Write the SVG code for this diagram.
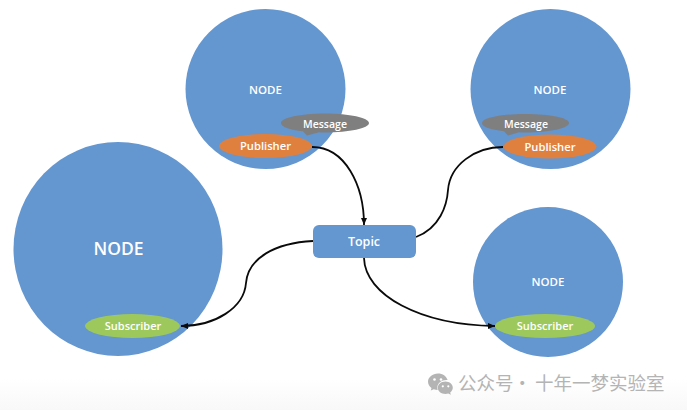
<svg xmlns="http://www.w3.org/2000/svg" width="687" height="410" viewBox="0 0 687 410">
<style>
text{font-family:"Open Sans","Liberation Sans","Noto Sans",sans-serif;font-weight:600;fill:#fff;text-anchor:middle}
.n{fill:#6496d0}
.pub{fill:#e0803f}
.msg{fill:#7f7f7f}
.sub{fill:#9dc95c}
.c{fill:none;stroke:#0a0a0a;stroke-width:1.8}
.wm{font-family:"Noto Sans CJK SC",sans-serif;font-weight:400;fill:#b4b4b4;font-size:18.5px;text-anchor:start}
.ic{fill:#b4b4b4}
</style>
<defs>
<marker id="a" markerUnits="userSpaceOnUse" markerWidth="8" markerHeight="7" refX="7" refY="3.500" orient="auto"><path d="M0,0.500L7,3.500L0,6.500z" fill="#0a0a0a"/></marker>
<linearGradient id="bg" x1="0" y1="0" x2="0" y2="1"><stop offset="0" stop-color="#fff"/><stop offset="1" stop-color="#f8f8f8"/></linearGradient>
</defs>
<rect width="687" height="410" fill="#fff"/>
<rect y="380" width="687" height="30" fill="url(#bg)"/>
<g id="node-a">
<circle class="n" cx="265.500" cy="89" r="80"/>
<text x="265.500" y="94" font-size="11.500">NODE</text>
</g>
<g id="node-b">
<circle class="n" cx="550.500" cy="89" r="80"/>
<text x="550" y="94" font-size="11.500">NODE</text>
</g>
<g id="node-c">
<ellipse class="n" cx="118" cy="249" rx="104.500" ry="107"/>
<text x="118.500" y="255" font-size="17.500">NODE</text>
</g>
<g id="node-d">
<circle class="n" cx="548" cy="282" r="75"/>
<text x="548" y="286" font-size="11.500">NODE</text>
</g>
<g id="connectors">
<path class="c" d="M312,147C345,147 364,185 364,225" marker-end="url(#a)"/>
<path class="c" d="M313,241C275,243 248,258 246,283C244,308 215,326 181,326" marker-end="url(#a)"/>
<path class="c" d="M416,237C440,228 447,205 448,190C450,165 475,147 503,147"/>
<path class="c" d="M364,258C365,295 420,325 495,326" marker-end="url(#a)"/>
</g>
<g id="message-a">
<path class="msg" d="M281,123C281,117.800 300.700,113.500 325,113.500C349.300,113.500 369,117.800 369,123C369,128.200 349.300,132.500 325,132.500C322.500,132.500 321,132.400 319,132.200L307,135.500L303,131.300C289.500,129.800 281,126.800 281,123z"/>
<text x="325" y="127.500" font-size="10.500">Message</text>
</g>
<g id="publisher-a">
<ellipse class="pub" cx="265.500" cy="146" rx="46.500" ry="12"/>
<text x="265.500" y="150" font-size="11.200">Publisher</text>
</g>
<g id="message-b">
<path class="msg" d="M482,123C482,117.800 501.500,114 525.500,114C549.500,114 569,117.800 569,123C569,128.200 549.500,132.500 525.500,132.500C523,132.500 521,132.400 519,132.200L508,135.500L504,131.200C490.500,129.800 482,126.800 482,123z"/>
<text x="526" y="128" font-size="10.500">Message</text>
</g>
<g id="publisher-b">
<ellipse class="pub" cx="550" cy="146.500" rx="46.500" ry="12"/>
<text x="550" y="150.500" font-size="11.200">Publisher</text>
</g>
<g id="subscriber-a">
<ellipse class="sub" cx="132.500" cy="326" rx="47.500" ry="12"/>
<text x="133" y="330" font-size="11">Subscriber</text>
</g>
<g id="subscriber-b">
<ellipse class="sub" cx="545" cy="326" rx="50" ry="12"/>
<text x="545" y="330" font-size="11">Subscriber</text>
</g>
<g id="topic">
<rect class="n" x="313" y="225" width="103" height="33" rx="6"/>
<text x="364" y="245.500" font-size="12.500">Topic</text>
</g>
<g id="watermark">
<path class="ic" d="M438,373.500C432.500,373.500 428,377.200 428,381.800C428,384.400 429.400,386.600 431.500,388.100L430.800,390.600L433.800,389.200C435,389.700 436.300,390 437.700,390C437.400,389.200 437.300,388.400 437.300,387.600C437.300,383.400 441.400,380 446.700,380L447.600,380C446.500,376.200 442.600,373.500 438,373.500z"/>
<path class="ic" d="M445.500,381.500C440.800,381.500 437.800,384.500 437.800,387.800C437.800,391.200 441.200,394 445.500,394C446.500,394 447.400,393.800 448.300,393.500L450.800,394.800L450.200,392.500C451.800,391.300 452.800,389.600 452.800,387.800C452.800,384.300 449.500,381.500 445.500,381.500z"/>
<circle cx="434.500" cy="379.500" r="1.300" fill="#fff"/><circle cx="441" cy="379.500" r="1.300" fill="#fff"/>
<circle cx="442.800" cy="386.300" r="1.100" fill="#fff"/><circle cx="448.300" cy="386.300" r="1.100" fill="#fff"/>
<text class="wm" x="458" y="390">公众号<tspan x="513">·</tspan><tspan x="535">十年一梦实验室</tspan></text>
</g>
</svg>
